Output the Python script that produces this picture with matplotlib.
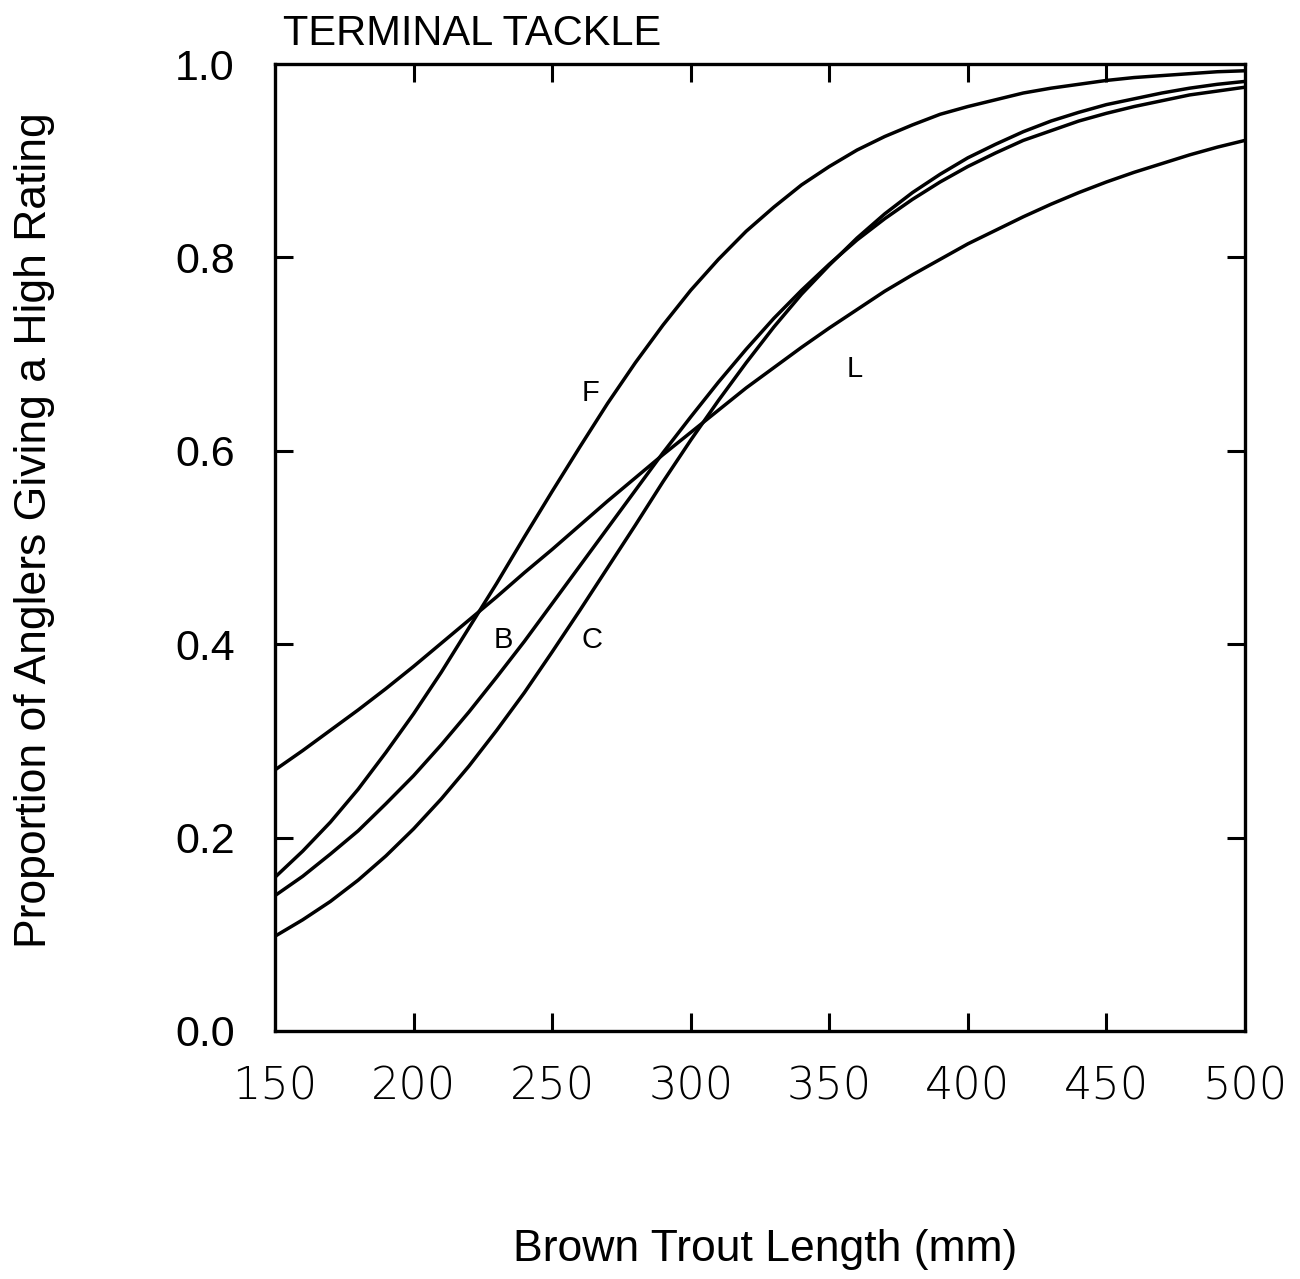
import matplotlib
matplotlib.use("Agg")
import matplotlib.pyplot as plt
from matplotlib import font_manager

# Brown trout length (mm)
length = [150, 160, 170, 180, 190, 200, 210, 220, 230, 240, 250, 260,
          270, 280, 290, 300, 310, 320, 330, 340, 350, 360, 370, 380,
          390, 400, 410, 420, 430, 440, 450, 460, 470, 480, 490, 500]

curve_F = [0.159, 0.186, 0.216, 0.250, 0.288, 0.328, 0.371, 0.417, 0.463, 0.511,
           0.558, 0.604, 0.649, 0.691, 0.730, 0.766, 0.798, 0.827, 0.852, 0.875,
           0.894, 0.911, 0.925, 0.937, 0.948, 0.956, 0.963, 0.970, 0.975, 0.979,
           0.983, 0.986, 0.988, 0.990, 0.992, 0.993]

curve_L = [0.270, 0.290, 0.311, 0.332, 0.354, 0.377, 0.401, 0.425, 0.449, 0.474,
           0.498, 0.523, 0.548, 0.572, 0.596, 0.619, 0.642, 0.665, 0.686, 0.707,
           0.727, 0.746, 0.765, 0.782, 0.798, 0.814, 0.828, 0.842, 0.855, 0.867,
           0.878, 0.888, 0.897, 0.906, 0.914, 0.921]

curve_B = [0.140, 0.160, 0.183, 0.207, 0.235, 0.264, 0.296, 0.330, 0.366, 0.403,
           0.442, 0.481, 0.520, 0.559, 0.598, 0.635, 0.671, 0.705, 0.737, 0.766,
           0.793, 0.818, 0.840, 0.860, 0.878, 0.894, 0.908, 0.921, 0.931, 0.941,
           0.949, 0.956, 0.962, 0.968, 0.972, 0.976]

curve_C = [0.098, 0.115, 0.134, 0.156, 0.181, 0.209, 0.240, 0.274, 0.311, 0.350,
           0.392, 0.435, 0.479, 0.523, 0.568, 0.611, 0.652, 0.691, 0.728, 0.762,
           0.792, 0.820, 0.845, 0.867, 0.886, 0.903, 0.917, 0.930, 0.941, 0.950,
           0.958, 0.964, 0.970, 0.975, 0.979, 0.982]

curve_labels = ["F", "L", "B", "C"]
label_x = [263.7, 359.3, 232.3, 264.4]
label_y = [0.660, 0.685, 0.404, 0.404]

x_ticks = [150, 200, 250, 300, 350, 400, 450, 500]
y_ticks = [0.0, 0.2, 0.4, 0.6, 0.8, 1.0]
y_ticklabels = ["0.0", "0.2", "0.4", "0.6", "0.8", "1.0"]

plt.rcParams['font.family'] = ['DejaVu Sans']
LAB = ['Liberation Sans', 'DejaVu Sans']
installed = {f.name for f in font_manager.fontManager.ttflist}
NARROW = ['Liberation Sans Narrow'] if 'Liberation Sans Narrow' in installed else ['Liberation Sans']

fig = plt.figure(figsize=(13.0, 12.79), dpi=100)
ax = fig.add_axes([275/1300, 1 - 1031/1279, (1245-275)/1300, (1031-64)/1279])

for ys in (curve_F, curve_L, curve_B, curve_C):
    ax.plot(length, ys, color="black", lw=2.5, solid_capstyle="butt")

for t, lx, ly in zip(curve_labels, label_x, label_y):
    ax.text(lx, ly, t, fontsize=21, ha="center", va="center", color="black",
            family=LAB)

ax.set_xlim(150, 500)
ax.set_ylim(0.0, 1.0)
ax.set_xticks(x_ticks)
ax.set_yticks(y_ticks)
ax.set_yticklabels(y_ticklabels)
ax.tick_params(axis="both", which="major", direction="in", length=13, width=2.2,
               top=True, right=True, color="black")
ax.tick_params(axis="x", pad=25, labelsize=32)
ax.tick_params(axis="y", pad=29, labelsize=31)
for lbl in ax.get_xticklabels():
    lbl.set_fontweight("light")
for lbl in ax.get_yticklabels():
    lbl.set_fontfamily(NARROW)

# tick marks only on interior values
for tk in ax.xaxis.get_major_ticks():
    if tk.get_loc() in (150, 500):
        tk.tick1line.set_visible(False)
        tk.tick2line.set_visible(False)
for tk in ax.yaxis.get_major_ticks():
    if tk.get_loc() in (0.0, 1.0):
        tk.tick1line.set_visible(False)
        tk.tick2line.set_visible(False)

for s in ax.spines.values():
    s.set_linewidth(2.4)

fig.text(765/1300, 1 - 1250/1279, "Brown Trout Length (mm)", fontsize=32,
         ha="center", va="center", family=LAB)
fig.text(35/1300, 1 - 530/1279, "Proportion of Anglers Giving a High Rating",
         fontsize=32, ha="center", va="center", rotation=90, family=LAB)
fig.text(283/1300, 1 - 45/1279, "TERMINAL TACKLE", fontsize=30, ha="left",
         va="baseline", family=LAB)

fig.savefig("out.png", dpi=100, facecolor="white")
